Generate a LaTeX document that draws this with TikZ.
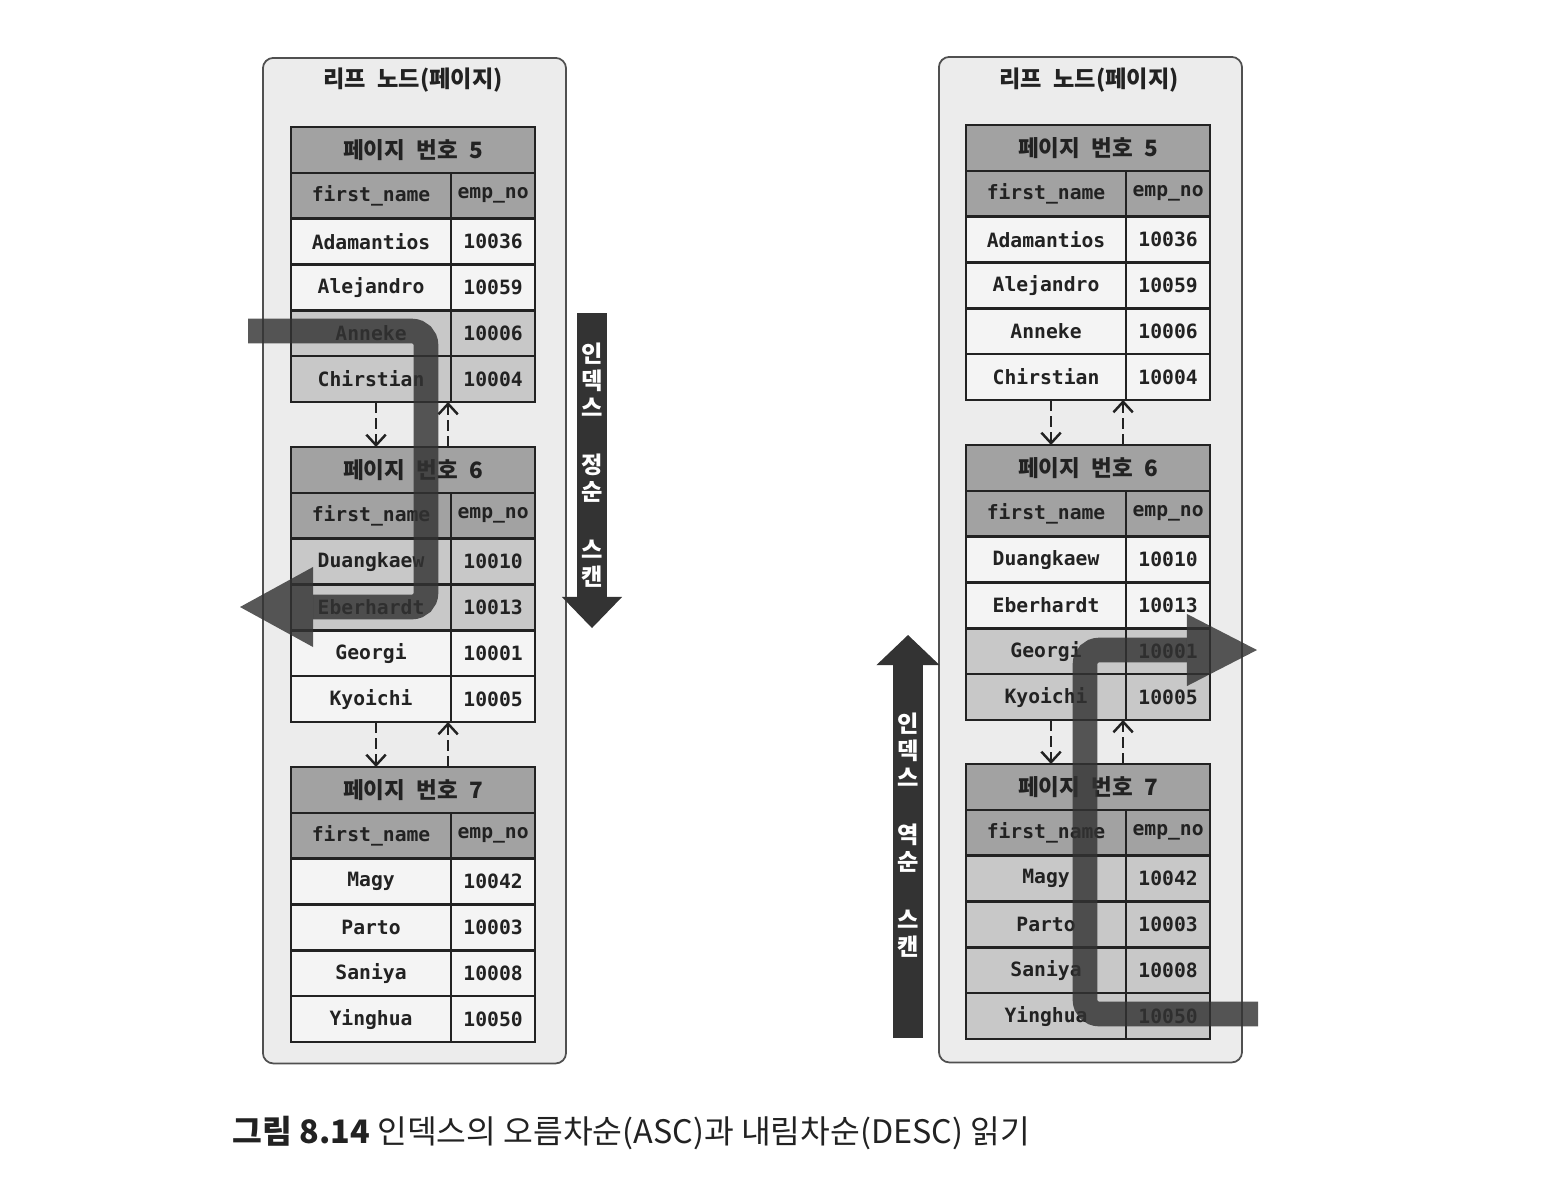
\documentclass[tikz,border=0pt]{standalone}
\usepackage{fontspec}
\setmainfont{Noto Sans CJK KR}
\newfontfamily\krfont[WordSpace=2.2]{Noto Sans CJK KR}
\newfontfamily\codefont{DejaVu Sans Mono}
\usetikzlibrary{arrows.meta,calc}

\definecolor{panelfill}{HTML}{ECECEC}
\definecolor{paneldraw}{HTML}{505050}
\definecolor{headfill}{HTML}{A2A2A2}
\definecolor{hitfill}{HTML}{C8C8C8}
\definecolor{rowfill}{HTML}{F4F4F4}
\definecolor{scanink}{HTML}{333333}
\definecolor{inkgray}{HTML}{222222}

\tikzset{
  panel/.style={draw=paneldraw, line width=0.5pt, fill=panelfill, rounded corners=3pt,
    minimum width=3.03cm, minimum height=10.05cm, anchor=north west},
  paneltitle/.style={text=inkgray, font=\krfont\bfseries\fontsize{6.6}{7}\selectfont},
  cell/.style={draw=inkgray, line width=0.75pt, outer sep=0pt, inner sep=1pt,
    minimum height=0.458cm, text=inkgray, font=\codefont\bfseries\fontsize{5.6}{6}\selectfont},
  namecol/.style={cell, minimum width=1.60cm},
  nocol/.style={cell, minimum width=0.84cm},
  titlecell/.style={cell, fill=headfill, minimum width=2.44cm,
    font=\krfont\bfseries\fontsize{6.4}{7}\selectfont},
  pagelink/.style={draw=inkgray, line width=0.7pt, dash pattern=on 3pt off 1.6pt, ->},
  scanpath/.style={draw=scanink, opacity=0.82, line width=7pt, rounded corners=4pt},
  scanbar/.style={draw=scanink, line width=8.8pt},
  bartext/.style={text=white, align=center, font=\krfont\bfseries\fontsize{6.6}{7.7}\selectfont},
}

% one leaf page: prefix, x, y, page number, rows name/no/fill
\newcommand\leafpage[5]{%
  \node[titlecell, anchor=north west] (#1t) at (#2,#3) {페이지 번호 #4};
  \node[namecol, fill=headfill, anchor=north west] (#1r0n) at (#1t.south west) {first\_name};
  \node[nocol, fill=headfill, anchor=north east] (#1r0k) at (#1t.south east) {emp\_no};
  \foreach \nm/\no/\sh [count=\i, remember=\i as \j (initially 0)] in {#5}{
    \node[namecol, fill=\sh, anchor=north west] (#1r\i n) at (#1r\j n.south west) {\nm};
    \node[nocol, fill=\sh, anchor=north east] (#1r\i k) at (#1r\j k.south east) {\no};
  }%
}
% dashed next/prev links between two pages
\newcommand\pagelinks[2]{%
  \draw[pagelink] ($(#1r4n.south)+(5,0)$) -- ($(#1r4n.south |- #2t.north)+(5,0)$);
  \draw[pagelink] ($(#2t.north -| #1r4k.south west)+(-3,0)$) -- ($(#1r4k.south west)+(-3,0)$);
}

\begin{document}
\begin{tikzpicture}[x=0.01cm, y=-0.01cm, >={Straight Barb[length=3pt,width=5.5pt]}]
\useasboundingbox (0,0) rectangle (1542,1190);

% left: ascending scan
\node[panel] (Lleaf) at (262,57) {};
\node[paneltitle] (Lhead) at (413,80) {리프 노드(페이지)};
\leafpage{L5}{291}{127}{5}{Adamantios/10036/rowfill, Alejandro/10059/rowfill,
  Anneke/10006/hitfill, Chirstian/10004/hitfill}
\leafpage{L6}{291}{447}{6}{Duangkaew/10010/hitfill, Eberhardt/10013/hitfill,
  Georgi/10001/rowfill, Kyoichi/10005/rowfill}
\leafpage{L7}{291}{767}{7}{Magy/10042/rowfill, Parto/10003/rowfill,
  Saniya/10008/rowfill, Yinghua/10050/rowfill}
\pagelinks{L5}{L6}
\pagelinks{L6}{L7}

% right: descending scan
\node[panel] (Rleaf) at (938,56) {};
\node[paneltitle] (Rhead) at (1089,80) {리프 노드(페이지)};
\leafpage{R5}{966}{125}{5}{Adamantios/10036/rowfill, Alejandro/10059/rowfill,
  Anneke/10006/rowfill, Chirstian/10004/rowfill}
\leafpage{R6}{966}{445}{6}{Duangkaew/10010/rowfill, Eberhardt/10013/rowfill,
  Georgi/10001/hitfill, Kyoichi/10005/hitfill}
\leafpage{R7}{966}{764}{7}{Magy/10042/hitfill, Parto/10003/hitfill,
  Saniya/10008/hitfill, Yinghua/10050/hitfill}
\pagelinks{R5}{R6}
\pagelinks{R6}{R7}

% scan paths
\coordinate (ascin) at (248,331);
\coordinate (ascout) at (240,607);
\draw[scanpath, -{Triangle[length=0.73cm, width=0.8cm, line width=0pt]}]
  (ascin) -- (426,331) -- (426,607) -- (ascout);
\coordinate (descin) at (1258,1014);
\coordinate (descout) at (1257,650);
\draw[scanpath, -{Triangle[length=0.7cm, width=0.72cm, line width=0pt]}]
  (descin) -- (1085,1014) -- (1085,650) -- (descout);

% direction bars
\draw[scanbar, -{Triangle[length=0.31cm, width=0.6cm, line width=0pt]}] (592,313) -- (592,628);
\node[bartext] (asclbl) at (592,465) {인\\덱\\스\\[0.3cm]정\\순\\[0.3cm]스\\캔};
\draw[scanbar, -{Triangle[length=0.3cm, width=0.63cm, line width=0pt]}] (908,1038) -- (908,635);
\node[bartext] (desclbl) at (908,835) {인\\덱\\스\\[0.3cm]역\\순\\[0.3cm]스\\캔};

\node[anchor=west, inner sep=0pt, text=inkgray, font=\fontsize{9.2}{11}\selectfont] (caption) at (232,1133)
  {\textbf{그림 8.14} 인덱스의 오름차순(ASC)과 내림차순(DESC) 읽기};
\end{tikzpicture}
\end{document}
